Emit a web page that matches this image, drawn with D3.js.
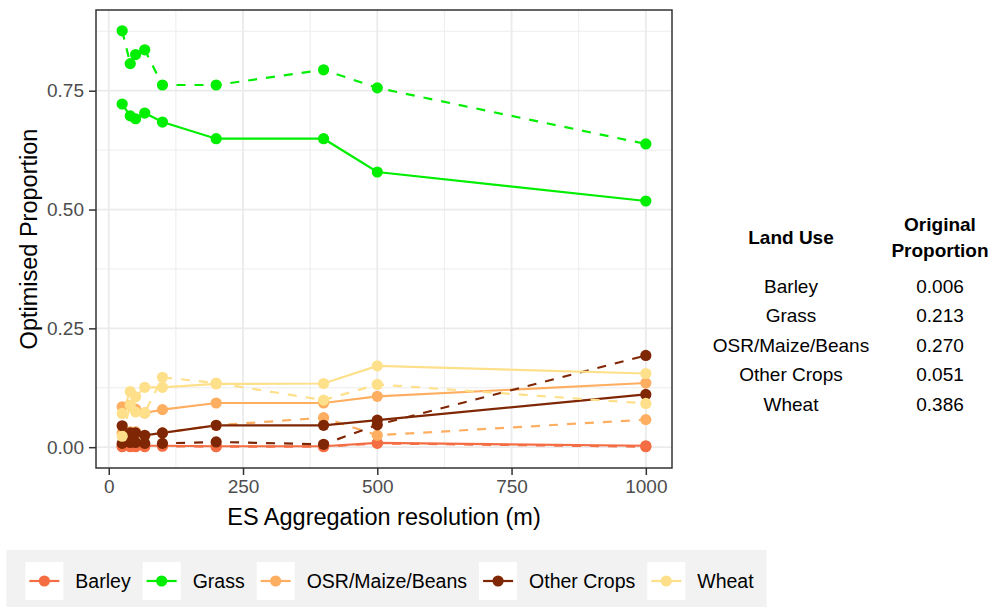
<!DOCTYPE html>
<html>
<head>
<meta charset="utf-8">
<script src="https://cdn.jsdelivr.net/npm/d3@7"></script>
<style>
  html, body { margin: 0; padding: 0; background: #fff; }
  svg { display: block; font-family: "Liberation Sans", Arial, Helvetica, sans-serif; }
</style>
</head>
<body>
<svg id="chart" width="1003" height="607"></svg>
<script>
// ---------- data ----------
const landUses = ["Barley", "Grass", "OSR/Maize/Beans", "Other Crops", "Wheat"];
const colors = ["#F46D43", "#00EE00", "#FDAE61", "#7F2704", "#FEE08B"];
const resolutions = [25, 40, 50, 67, 100, 200, 400, 500, 1000];

// solid lines
const solidBarley = [0.003, 0.003, 0.002, 0.003, 0.003, 0.002, 0.002, 0.009, 0.003];
const solidGrass  = [0.722, 0.697, 0.691, 0.703, 0.684, 0.649, 0.649, 0.579, 0.518];
const solidOSR    = [0.085, 0.088, 0.080, 0.072, 0.079, 0.093, 0.093, 0.107, 0.135];
const solidOther  = [0.045, 0.030, 0.030, 0.025, 0.030, 0.046, 0.046, 0.057, 0.111];
const solidWheat  = [0.071, 0.117, 0.106, 0.126, 0.126, 0.133, 0.134, 0.171, 0.155];

// dashed lines
const dashedBarley = [0.001, 0.001, 0.001, 0.001, 0.002, 0.001, 0.001, 0.008, 0.001];
const dashedGrass  = [0.876, 0.807, 0.826, 0.836, 0.762, 0.762, 0.794, 0.756, 0.638];
const dashedOSR    = [0.030, 0.032, 0.032, 0.023, 0.030, 0.046, 0.062, 0.025, 0.058];
const dashedOther  = [0.008, 0.010, 0.010, 0.008, 0.008, 0.011, 0.006, 0.047, 0.193];
const dashedWheat  = [0.023, 0.088, 0.074, 0.072, 0.147, 0.135, 0.099, 0.132, 0.092];

const xTicks = [0, 250, 500, 750, 1000];
const yTicks = [0, 0.25, 0.5, 0.75];

const tableHeader1 = "Land Use";
const tableHeader2 = ["Original", "Proportion"];
const originalProportion = ["0.006", "0.213", "0.270", "0.051", "0.386"];

// ---------- build ----------
const solidSeries = [solidBarley, solidGrass, solidOSR, solidOther, solidWheat];
const dashedSeries = [dashedBarley, dashedGrass, dashedOSR, dashedOther, dashedWheat];
const series = [];
landUses.forEach((lu, i) => {
  series.push({ lu, color: colors[i], dashed: false, pts: resolutions.map((r, j) => ({ x: r, y: solidSeries[i][j] })) });
  series.push({ lu, color: colors[i], dashed: true, pts: resolutions.map((r, j) => ({ x: r, y: dashedSeries[i][j] })) });
});

const svg = d3.select("#chart");
svg.append("rect").attr("width", 1003).attr("height", 607).attr("fill", "#fff");

const panel = { left: 96, right: 672, top: 10, bottom: 468 };

const allY = series.flatMap(s => s.pts.map(p => p.y));
const yMin = Math.min(0, d3.min(allY)), yMax = d3.max(allY);
const yPad = (yMax - yMin) * 0.05;
const xMin = d3.min(resolutions), xMax = d3.max(resolutions);
const xPad = (xMax - xMin) * 0.05;

const x = d3.scaleLinear().domain([xMin - xPad, xMax + xPad]).range([panel.left, panel.right]);
const y = d3.scaleLinear().domain([yMin - yPad, yMax + yPad]).range([panel.bottom, panel.top]);

// grid
const g = svg.append("g");
const minorX = [125, 375, 625, 875];
const minorY = [0.125, 0.375, 0.625, 0.875];
g.selectAll(".mx").data(minorX).join("line")
  .attr("x1", d => x(d)).attr("x2", d => x(d)).attr("y1", panel.top).attr("y2", panel.bottom)
  .attr("stroke", "#EBEBEB").attr("stroke-width", 0.9);
g.selectAll(".my").data(minorY).join("line")
  .attr("y1", d => y(d)).attr("y2", d => y(d)).attr("x1", panel.left).attr("x2", panel.right)
  .attr("stroke", "#EBEBEB").attr("stroke-width", 0.9);
g.selectAll(".Mx").data(xTicks).join("line")
  .attr("x1", d => x(d)).attr("x2", d => x(d)).attr("y1", panel.top).attr("y2", panel.bottom)
  .attr("stroke", "#EBEBEB").attr("stroke-width", 1.8);
g.selectAll(".My").data(yTicks).join("line")
  .attr("y1", d => y(d)).attr("y2", d => y(d)).attr("x1", panel.left).attr("x2", panel.right)
  .attr("stroke", "#EBEBEB").attr("stroke-width", 1.8);

// lines
const line = d3.line().x(d => x(d.x)).y(d => y(d.y));
svg.append("g").selectAll("path").data(series).join("path")
  .attr("d", d => line(d.pts))
  .attr("fill", "none")
  .attr("stroke", d => d.color)
  .attr("stroke-width", 2.2)
  .attr("stroke-dasharray", d => d.dashed ? "9,9" : null);

// points
svg.append("g").selectAll("g").data(series).join("g")
  .selectAll("circle").data(d => d.pts.map(p => ({ ...p, color: d.color }))).join("circle")
  .attr("cx", d => x(d.x)).attr("cy", d => y(d.y)).attr("r", 5.6)
  .attr("fill", d => d.color);

// panel border
svg.append("rect")
  .attr("x", panel.left).attr("y", panel.top)
  .attr("width", panel.right - panel.left).attr("height", panel.bottom - panel.top)
  .attr("fill", "none").attr("stroke", "#333333").attr("stroke-width", 1.5);

// axes
const xAxis = svg.append("g").attr("transform", `translate(0,${panel.bottom})`)
  .call(d3.axisBottom(x).tickValues(xTicks).tickFormat(d3.format("d")).tickSize(7).tickPadding(5));
const yAxis = svg.append("g").attr("transform", `translate(${panel.left},0)`)
  .call(d3.axisLeft(y).tickValues(yTicks).tickFormat(d3.format(".2f")).tickSize(7).tickPadding(5));
[xAxis, yAxis].forEach(a => {
  a.select(".domain").remove();
  a.selectAll(".tick line").attr("stroke", "#333333").attr("stroke-width", 1.5);
  a.selectAll(".tick text").attr("fill", "#4D4D4D").style("font-size", "19px")
    .style("font-family", "'Liberation Sans', Arial, sans-serif");
});

// axis titles
svg.append("text").attr("x", (panel.left + panel.right) / 2).attr("y", 525)
  .attr("text-anchor", "middle").style("font-size", "23.5px").attr("fill", "#000")
  .text("ES Aggregation resolution (m)");
svg.append("text").attr("transform", `translate(37,${(panel.top + panel.bottom) / 2}) rotate(-90)`)
  .attr("text-anchor", "middle").style("font-size", "23.5px").attr("fill", "#000")
  .text("Optimised Proportion");

// table
const col1 = 791, col2 = 940;
const tg = svg.append("g").style("font-size", "19px").attr("fill", "#000");
tg.append("text").attr("x", col1).attr("y", 244).attr("text-anchor", "middle").attr("font-weight", "bold").text(tableHeader1);
tableHeader2.forEach((t, i) => {
  tg.append("text").attr("x", col2).attr("y", 231 + i * 26).attr("text-anchor", "middle").attr("font-weight", "bold").text(t);
});
landUses.forEach((lu, i) => {
  const yy = 293 + i * 29.4;
  tg.append("text").attr("x", col1).attr("y", yy).attr("text-anchor", "middle").text(lu);
  tg.append("text").attr("x", col2).attr("y", yy).attr("text-anchor", "middle").text(originalProportion[i]);
});

// legend
const lg = svg.append("g");
const lgBg = lg.append("rect").attr("fill", "#F2F2F2");
const keySize = 38, keyTextGap = 12, itemGap = 12, legTop = 562;
let cx = 0;
const items = lg.append("g");
landUses.forEach((lu, i) => {
  const it = items.append("g").attr("transform", `translate(${cx},0)`);
  it.append("rect").attr("x", 0).attr("y", legTop).attr("width", keySize).attr("height", keySize).attr("fill", "#fff");
  it.append("line").attr("x1", 4).attr("x2", keySize - 4).attr("y1", legTop + keySize / 2).attr("y2", legTop + keySize / 2)
    .attr("stroke", colors[i]).attr("stroke-width", 2.2);
  it.append("circle").attr("cx", keySize / 2).attr("cy", legTop + keySize / 2).attr("r", 5.6).attr("fill", colors[i]);
  const t = it.append("text").attr("x", keySize + keyTextGap).attr("y", legTop + keySize / 2 + 7)
    .style("font-size", "19.5px").attr("fill", "#000").text(lu);
  cx += keySize + keyTextGap + t.node().getComputedTextLength() + itemGap;
});
const totalW = cx - itemGap;
const legLeft = 389.5 - totalW / 2;
items.attr("transform", `translate(${legLeft},0)`);
lgBg.attr("x", legLeft - 19).attr("y", 550).attr("width", totalW + 32).attr("height", 60);
</script>
</body>
</html>
